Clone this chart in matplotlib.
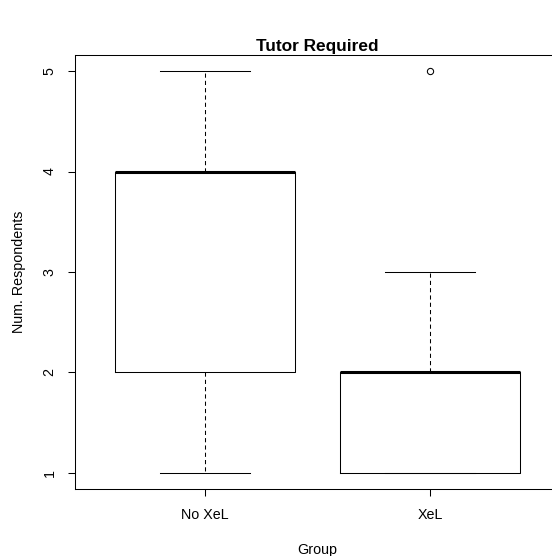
import matplotlib.pyplot as plt

plt.rcParams['font.family'] = ['Liberation Sans', 'DejaVu Sans']

# five-number summaries per group
groups = ["No XeL", "XeL"]
whisker_low = [1, 1]
lower_q = [2, 1]
medians = [4, 2]
upper_q = [4, 2]
whisker_high = [5, 3]
outliers = [[], [5]]
y_ticks = [1, 2, 3, 4, 5]

stats = []
for i, name in enumerate(groups):
    stats.append({
        "label": name,
        "whislo": whisker_low[i],
        "q1": lower_q[i],
        "med": medians[i],
        "q3": upper_q[i],
        "whishi": whisker_high[i],
        "fliers": outliers[i],
    })

W, H = 552, 556
fig = plt.figure(figsize=(W / 100, H / 100), dpi=100)
# plot region runs off the right edge, like the original device
left, right, top, bottom = 74.5, 560.5, 55, 489
ax = fig.add_axes([left / W, 1 - bottom / H, (right - left) / W, (bottom - top) / H])

ax.bxp(stats, positions=[1, 2], widths=0.8,
       boxprops=dict(color="black", linewidth=0.75),
       whiskerprops=dict(color="black", linewidth=0.75, linestyle=(0, (4, 3))),
       capprops=dict(color="black", linewidth=0.75),
       medianprops=dict(color="black", linewidth=2.2),
       flierprops=dict(marker="o", markersize=4.5, markerfacecolor="none",
                       markeredgecolor="black", markeredgewidth=0.75),
       capwidths=0.4)

ax.set_xlim(0.42, 2.58)
ax.set_ylim(0.84, 5.16)
ax.set_xticks([1, 2])
ax.set_xticklabels(groups)
ax.set_yticks(y_ticks)
ax.set_yticklabels([str(v) for v in y_ticks], rotation=90, va="center")

for s in ax.spines.values():
    s.set_linewidth(0.75)
    s.set_color("black")
ax.spines["right"].set_visible(False)
ax.tick_params(axis="both", length=5, width=0.75, labelsize=10.3, colors="black")
ax.tick_params(axis="x", pad=9)
ax.tick_params(axis="y", pad=8)

fig.text(317.5 / W, 1 - 47 / H, "Tutor Required", ha="center", va="center",
         fontsize=12.4, fontweight="bold")
fig.text(317.5 / W, 1 - 550 / H, "Group", ha="center", va="center", fontsize=10.3)
fig.text(19 / W, 1 - 272 / H, "Num. Respondents", ha="center", va="center",
         rotation=90, fontsize=10.3)

fig.savefig("out.png", dpi=100)
